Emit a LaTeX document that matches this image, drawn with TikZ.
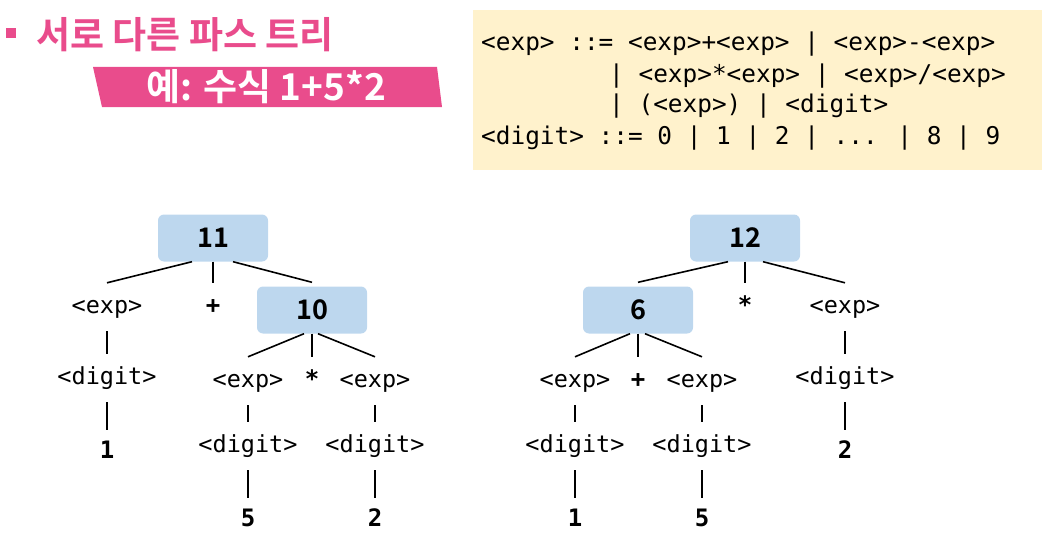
\documentclass[tikz,border=0pt]{standalone}
\usepackage{fontspec}
\setmainfont{Noto Sans}
\newfontfamily\kofont{Noto Sans CJK KR}[BoldFont={Noto Sans CJK KR Bold}]
\newfontfamily\codefont{DejaVu Sans Mono}
\usetikzlibrary{
  	positioning,
  	calc
  }
\definecolor{titlepink}{HTML}{E94C8C}
\definecolor{gramyellow}{HTML}{FFF2CC}
\definecolor{valblue}{HTML}{BDD7EE}
\tikzstyle{sym}=[font=\codefont\fontsize{23.5}{28}\selectfont,text height=17pt,text depth=5pt,minimum height=48pt,inner sep=0pt]
\tikzstyle{op}=[sym,font=\codefont\bfseries\fontsize{24}{28}\selectfont]
\tikzstyle{leaf}=[font=\codefont\bfseries\fontsize{24}{28}\selectfont,text height=17pt,text depth=0pt,minimum height=40pt,inner sep=0pt]
\tikzstyle{val}=[fill=valblue,rounded corners=6pt,minimum width=110pt,minimum height=47pt,inner sep=0pt,font=\kofont\bfseries\fontsize{27}{32}\selectfont]
\tikzstyle{gram}=[font=\codefont\fontsize{24.4}{31}\selectfont,anchor=base west,inner sep=0pt]
\tikzstyle{branch}=[line width=1.6pt]

\begin{document}
\begin{tikzpicture}[x=1pt,y=-1pt]
  \useasboundingbox (0,0) rectangle (1042,543);
%
  \fill[titlepink] (6,28) rectangle (16,38);
  \node[anchor=base west,inner sep=0pt,text=titlepink,font=\kofont\bfseries\fontsize{37}{44}\selectfont] (title) at (36,49) {서로 다른 파스 트리};
  \fill[titlepink] (93,67) -- (437,67) -- (442,107) -- (102,107) -- cycle;
  \node[text=white,font=\kofont\bfseries\fontsize{37}{44}\selectfont] (ex) at (266,87) {예: 수식 1+5*2};
%
  \fill[gramyellow] (473,10) rectangle (1042,170);
  \node[gram] (g1) at (481,51) {<exp> ::= <exp>+<exp> | <exp>-<exp>};
  \node[gram] (g2) at (609,82) {| <exp>*<exp> | <exp>/<exp>};
  \node[gram] (g3) at (609,113) {| (<exp>) | <digit>};
  \node[gram] (g4) at (481,144) {<digit> ::= 0 | 1 | 2 | ... | 8 | 9};
%
  \node[val] (t11) at (213,238) {11};
  \path (t11)++(-106,69) node[sym] (e1) {<exp>};
  \path (t11)++(0,69) node[op] (p1) {+};
  \node[val] (t10) at (312,310) {10};
  \path (e1)++(0,71) node[sym] (d1) {<digit>};
  \path (d1)++(0,72) node[leaf] (n1) {1};
  \path (t10)++(-64,71) node[sym] (e2) {<exp>};
  \path (t10)++(0,71) node[op] (m1) {*};
  \path (t10)++(63,71) node[sym] (e3) {<exp>};
  \path (e2)++(0,65) node[sym] (d2) {<digit>};
  \path (e3)++(0,65) node[sym] (d3) {<digit>};
  \path (d2)++(0,72) node[leaf] (n5) {5};
  \path (d3)++(0,72) node[leaf] (n2) {2};
  \draw[branch] ([xshift=-21pt]t11.south) -- (e1.north);
  \draw[branch] (t11.south) -- (p1.north);
  \draw[branch] ([xshift=20pt]t11.south) -- ([yshift=4pt]t10.north);
  \draw[branch] ([xshift=-8pt]t10.south) -- (e2.north);
  \draw[branch] (t10.south) -- (m1.north);
  \draw[branch] ([xshift=6pt]t10.south) -- (e3.north);
  \draw[branch] (e1) -- (d1);
  \draw[branch] (d1) -- (n1);
  \draw[branch] (e2) -- (d2);
  \draw[branch] (d2) -- (n5);
  \draw[branch] (e3) -- (d3);
  \draw[branch] (d3) -- (n2);
%
  \node[val] (t12) at (745,238) {12};
  \node[val] (t6) at (638,310) {6};
  \path (t12)++(0,69) node[op] (m2) {*};
  \path (t12)++(100,69) node[sym] (e4) {<exp>};
  \path (e4)++(0,71) node[sym] (d4) {<digit>};
  \path (d4)++(0,72) node[leaf] (n2b) {2};
  \path (t6)++(-63,71) node[sym] (e5) {<exp>};
  \path (t6)++(0,71) node[op] (p2) {+};
  \path (t6)++(64,71) node[sym] (e6) {<exp>};
  \path (e5)++(0,65) node[sym] (d5) {<digit>};
  \path (e6)++(0,65) node[sym] (d6) {<digit>};
  \path (d5)++(0,72) node[leaf] (n1b) {1};
  \path (d6)++(0,72) node[leaf] (n5b) {5};
  \draw[branch] ([xshift=-17pt]t12.south) -- ([yshift=4pt]t6.north);
  \draw[branch] (t12.south) -- (m2.north);
  \draw[branch] ([xshift=18pt]t12.south) -- (e4.north);
  \draw[branch] ([xshift=-8pt]t6.south) -- (e5.north);
  \draw[branch] (t6.south) -- (p2.north);
  \draw[branch] ([xshift=7pt]t6.south) -- (e6.north);
  \draw[branch] (e4) -- (d4);
  \draw[branch] (d4) -- (n2b);
  \draw[branch] (e5) -- (d5);
  \draw[branch] (d5) -- (n1b);
  \draw[branch] (e6) -- (d6);
  \draw[branch] (d6) -- (n5b);
\end{tikzpicture}
\end{document}
